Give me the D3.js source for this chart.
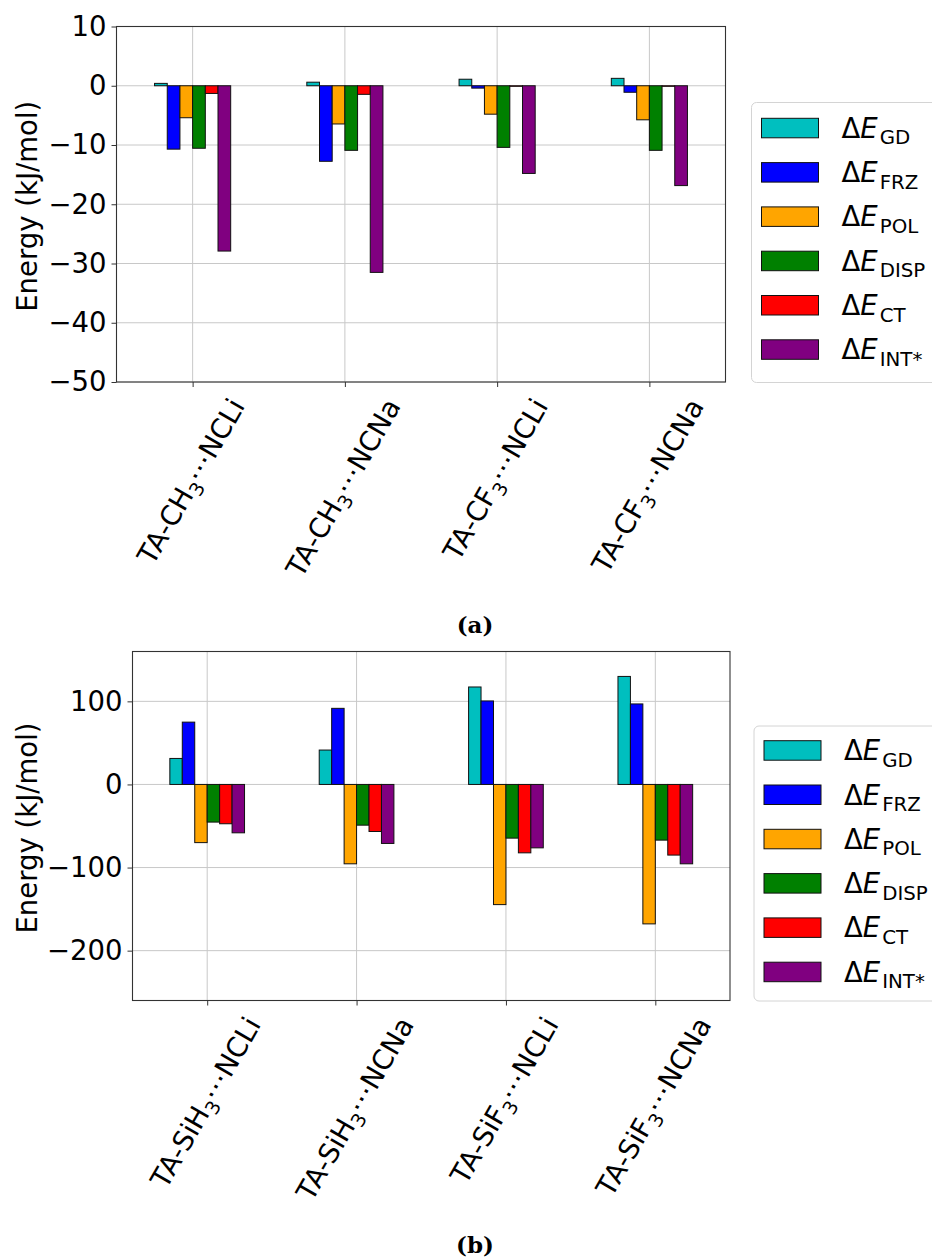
<!DOCTYPE html>
<html>
<head>
<meta charset="utf-8">
<script src="https://cdn.jsdelivr.net/npm/d3@7"></script>
<style>
  body { margin: 0; background: #fff; }
  svg { display: block; }
  text { font-family: "DejaVu Sans", sans-serif; fill: #000; }
  text.caption { font-family: "DejaVu Serif", serif; font-weight: bold; }
</style>
</head>
<body>
<svg id="fig" width="932" height="1258"></svg>
<script>
// Energy decomposition terms shared by both panels
const seriesKeys = ["GD", "FRZ", "POL", "DISP", "CT", "INT*"];
const seriesColors = ["#00bfbf", "#0000ff", "#ffa500", "#008000", "#ff0000", "#800080"];

// Panel (a): carbon-based complexes ("_3" marks a subscript)
const categoriesA = ["TA-CH_3⋯NCLi", "TA-CH_3⋯NCNa", "TA-CF_3⋯NCLi", "TA-CF_3⋯NCNa"];
const gdA   = [0.4, 0.6, 1.1, 1.25];
const frzA  = [-10.7, -12.75, -0.4, -1.1];
const polA  = [-5.4, -6.45, -4.8, -5.75];
const dispA = [-10.55, -10.9, -10.4, -10.9];
const ctA   = [-1.3, -1.45, -0.1, -0.1];
const intA  = [-27.9, -31.5, -14.8, -16.85];
const ticksA = [10, 0, -10, -20, -30, -40, -50];
const limitsA = [-50, 10];

// Panel (b): silicon-based complexes
const categoriesB = ["TA-SiH_3⋯NCLi", "TA-SiH_3⋯NCNa", "TA-SiF_3⋯NCLi", "TA-SiF_3⋯NCNa"];
const gdB   = [31.3, 41.4, 117.3, 130];
const frzB  = [75, 91.6, 100.5, 96.9];
const polB  = [-70, -95.5, -144.6, -167.8];
const dispB = [-45.3, -49, -64.6, -67];
const ctB   = [-47.3, -56.6, -82.3, -85];
const intB  = [-58.2, -71, -76.3, -95.5];
const ticksB = [100, 0, -100, -200];
const limitsB = [-260, 160];

const FS = 27.5;           // base font size
const svg = d3.select("#fig");
const fmt = v => (v < 0 ? "\u2212" + Math.abs(v) : String(v));

// write "TA-CH_3⋯NCLi" into a text node with a real subscript
function writeLabel(textSel, label) {
  const m = label.match(/^(.*?)_(\d)(.*)$/);
  if (!m) { textSel.text(label); return; }
  textSel.append("tspan").text(m[1]);
  textSel.append("tspan").attr("font-size", FS * 0.7).attr("dy", FS * 0.22).text(m[2]);
  textSel.append("tspan").attr("dy", -FS * 0.22).text(m[3]);
}

function drawPanel(cfg) {
  const { categories, values, ticks, limits, box, legend, caption } = cfg;
  const g = svg.append("g");

  const x = d3.scaleBand().domain(categories).range([box.left, box.right])
    .paddingInner(0.5).paddingOuter(0.25);
  const xs = d3.scaleBand().domain(seriesKeys).range([0, x.bandwidth()]);
  const y = d3.scaleLinear().domain(limits).range([box.bottom, box.top]);
  const center = c => x(c) + x.bandwidth() / 2;

  // grid
  g.append("g").selectAll("line.h").data(ticks).join("line")
    .attr("x1", box.left).attr("x2", box.right)
    .attr("y1", d => y(d)).attr("y2", d => y(d))
    .attr("stroke", "#c8c8c8").attr("stroke-width", 1);
  g.append("g").selectAll("line.v").data(categories).join("line")
    .attr("x1", center).attr("x2", center)
    .attr("y1", box.top).attr("y2", box.bottom)
    .attr("stroke", "#c8c8c8").attr("stroke-width", 1);

  // bars
  seriesKeys.forEach((key, si) => {
    g.append("g").selectAll("rect").data(values[si]).join("rect")
      .attr("x", (d, i) => x(categories[i]) + xs(key))
      .attr("width", xs.bandwidth())
      .attr("y", d => y(Math.max(0, d)))
      .attr("height", d => Math.abs(y(d) - y(0)))
      .attr("fill", seriesColors[si])
      .attr("stroke", "#111").attr("stroke-width", 1);
  });

  // frame
  g.append("rect").attr("x", box.left).attr("y", box.top)
    .attr("width", box.right - box.left).attr("height", box.bottom - box.top)
    .attr("fill", "none").attr("stroke", "#333").attr("stroke-width", 1.1);

  // y axis
  const yAxis = g.append("g").attr("transform", `translate(${box.left},0)`)
    .call(d3.axisLeft(y).tickValues(ticks).tickFormat(fmt).tickSize(5).tickPadding(5));
  yAxis.select(".domain").remove();
  yAxis.selectAll(".tick line").attr("stroke", "#333");
  yAxis.selectAll(".tick text").attr("font-size", FS);

  // x ticks
  const xAxis = g.append("g").attr("transform", `translate(0,${box.bottom})`)
    .call(d3.axisBottom(d3.scalePoint().domain(categories).range([center(categories[0]), center(categories[categories.length - 1])]))
      .tickSize(5).tickFormat(""));
  xAxis.select(".domain").remove();
  xAxis.selectAll(".tick line").attr("stroke", "#333");

  // rotated category labels: bounding box centred on the tick, top just below it
  const ang = -60 * Math.PI / 180, ca = Math.cos(ang), sa = Math.sin(ang);
  categories.forEach(c => {
    const t = g.append("text").attr("font-size", FS);
    writeLabel(t, c);
    const b = t.node().getBBox();
    const corners = [[b.x, b.y], [b.x + b.width, b.y], [b.x, b.y + b.height], [b.x + b.width, b.y + b.height]]
      .map(([px, py]) => [px * ca - py * sa, px * sa + py * ca]);
    const minX = d3.min(corners, p => p[0]), maxX = d3.max(corners, p => p[0]);
    const minY = d3.min(corners, p => p[1]);
    const tx = center(c) - (minX + maxX) / 2;
    const ty = box.bottom + 5 + 6 - minY;
    t.attr("transform", `translate(${tx},${ty}) rotate(-60)`);
  });

  // y label
  g.append("text").attr("font-size", FS).attr("text-anchor", "middle")
    .attr("transform", `translate(${cfg.ylabelX},${(box.top + box.bottom) / 2 + 2}) rotate(-90)`)
    .attr("dy", "0.35em").text("Energy (kJ/mol)");

  // legend
  const lg = g.append("g");
  lg.append("rect").attr("x", legend.x).attr("y", legend.y)
    .attr("width", 200).attr("height", legend.h).attr("rx", 5)
    .attr("fill", "#fff").attr("stroke", "#d4d4d4").attr("stroke-width", 1);
  seriesKeys.forEach((key, si) => {
    const py = legend.first + si * legend.step;
    lg.append("rect").attr("x", legend.x + 10).attr("y", py)
      .attr("width", 57).attr("height", 19.5)
      .attr("fill", seriesColors[si]).attr("stroke", "#111").attr("stroke-width", 1);
    const t = lg.append("text").attr("x", legend.x + 90).attr("y", py + 19.5).attr("font-size", FS);
    t.append("tspan").text("\u0394");
    t.append("tspan").attr("font-style", "italic").text("E");
    t.append("tspan").attr("font-size", FS * 0.72).attr("dy", FS * 0.24).attr("dx", 2).text(key);
  });

  // caption
  g.append("text").attr("class", "caption").attr("x", caption.x).attr("y", caption.y)
    .attr("text-anchor", "middle").attr("font-size", 23).text(caption.text);
}

drawPanel({
  categories: categoriesA,
  values: [gdA, frzA, polA, dispA, ctA, intA],
  ticks: ticksA, limits: limitsA,
  box: { left: 116.5, right: 725.5, top: 26.5, bottom: 382 },
  ylabelX: 27.5,
  legend: { x: 751.5, y: 102.5, h: 280, first: 118.3, step: 44.3 },
  caption: { text: "(a)", x: 475, y: 633 }
});

drawPanel({
  categories: categoriesB,
  values: [gdB, frzB, polB, dispB, ctB, intB],
  ticks: ticksB, limits: limitsB,
  box: { left: 132.5, right: 730, top: 651.5, bottom: 1000.5 },
  ylabelX: 27.5,
  legend: { x: 754, y: 726, h: 275, first: 740.7, step: 44.3 },
  caption: { text: "(b)", x: 475, y: 1253 }
});
</script>
</body>
</html>
